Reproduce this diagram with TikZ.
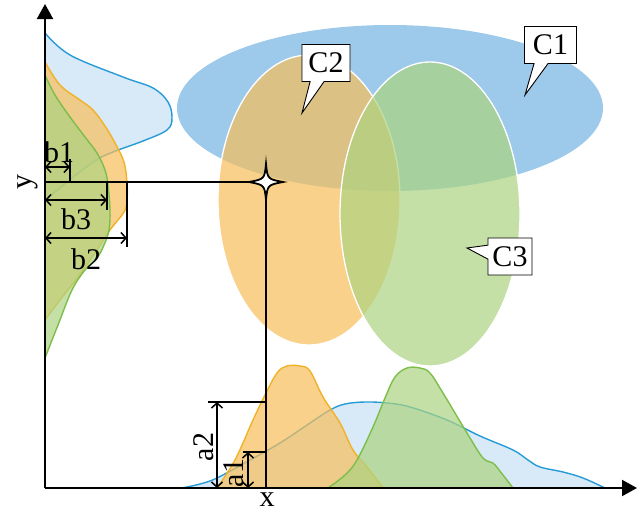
\documentclass[tikz,border=0pt]{standalone}
\usepackage{fontspec}
\setmainfont{Liberation Serif}
\usetikzlibrary{arrows.meta,shapes.callouts}
\definecolor{ellblue}{RGB}{157,201,234}
\definecolor{bluefill}{RGB}{157,201,234}
\definecolor{blueline}{RGB}{40,155,215}
\definecolor{orangefill}{RGB}{247,190,90}
\definecolor{orangeline}{RGB}{240,178,40}
\definecolor{greenfill}{RGB}{172,211,128}
\definecolor{greenline}{RGB}{125,190,75}
\begin{document}
\begin{tikzpicture}[x=1pt,y=-1pt,
  font={\fontsize{30}{32}\selectfont},
  axis/.style={line width=2pt,-{Triangle[length=15pt,width=16pt]}},
  guide/.style={line width=1.4pt},
  dim/.style={line width=1.5pt,{Straight Barb[length=5pt,width=11pt]}-{Straight Barb[length=5pt,width=11pt]}},
  bdist/.style={fill=bluefill,fill opacity=0.4,draw=blueline,line width=1.4pt,draw opacity=1},
  odist/.style={fill=orangefill,fill opacity=0.7,draw=orangeline,line width=1.4pt,draw opacity=1},
  gdist/.style={fill=greenfill,fill opacity=0.7,draw=greenline,line width=1.4pt,draw opacity=1},
  ell/.style={draw=white,line width=1.3pt,fill opacity=0.7},
  lab/.style={inner sep=0pt},
  callbox/.style={rectangle callout,draw=black,fill=white,line width=0.9pt,inner sep=0pt,
    minimum width=52pt,minimum height=37pt,callout pointer width=14pt}]
\useasboundingbox (0,0) rectangle (638,514);

% ellipses
\fill[ellblue] (390,108) ellipse [x radius=213pt, y radius=83pt];
\path[ell,fill=orangefill] (309,200) ellipse [x radius=91pt, y radius=145pt];
\path[ell,fill=greenfill] (430,214) ellipse [x radius=90pt, y radius=152pt];

% left distributions
\path[bdist] plot[smooth,tension=0.6] coordinates {(45,33) (70,55) (123,77) (153,88) (168,102) (172,118) (167,130) (143,141) (113,152) (95,161) (67,182) (46,200)};
\path[odist] plot[smooth,tension=0.6] coordinates {(45,62) (60,85) (80,100) (93,110) (105,126) (115,143) (124,162) (127,183) (127,200) (124,212) (110,230) (97,250) (78,277) (60,300) (45,320)};
\path[gdist] plot[smooth,tension=0.6] coordinates {(45,75) (55,95) (70,117) (85,137) (97,153) (105,170) (108,185) (110,210) (109,230) (104,245) (97,258) (85,270) (72,290) (58,325) (45,358)};

% bottom distributions
\path[bdist] plot[smooth,tension=0.6] coordinates {(182,488) (200,484) (217,478) (250,460) (280,443) (310,423) (330,410) (345,404) (365,402) (387,403) (410,407) (447,420) (480,436) (513,450) (528,460) (540,467) (563,472) (583,478) (605,488)};
\path[odist] plot[smooth,tension=0.6] coordinates {(217,488) (235,460) (253,420) (265,395) (277,373) (287,366) (300,366) (310,371) (323,397) (340,423) (353,450) (367,467) (383,488)};
\path[gdist] plot[smooth,tension=0.6] coordinates {(328,488) (345,475) (357,460) (373,427) (385,398) (395,377) (407,368) (420,368) (430,373) (443,393) (467,433) (483,458) (493,463) (503,475) (513,488)};

% coordinates
\coordinate (O) at (45,488);
\coordinate (Ytop) at (45,4);
\coordinate (Xend) at (637,488);
\coordinate (Yp) at (45,182);
\coordinate (S) at (266,182);
\coordinate (Xp) at (266,488);

% axes
\draw[axis] (O) -- (Ytop);
\draw[axis] (O) -- (Xend);

% guide lines
\draw[guide] (Yp) -- (S);
\draw[guide] (S) -- (Xp);

% left dimensions
\coordinate (b1s) at (45,167); \coordinate (b1e) at (70,167);
\coordinate (b1t) at (70,159); \coordinate (b1b) at (70,182);
\draw[dim] (b1s) -- (b1e);
\draw[guide] (b1t) -- (b1b);
\coordinate (b3s) at (45,200); \coordinate (b3e) at (107,200);
\coordinate (b3t) at (107,182); \coordinate (b3b) at (107,210);
\draw[dim] (b3s) -- (b3e);
\draw[guide] (b3t) -- (b3b);
\coordinate (b2s) at (45,238); \coordinate (b2e) at (127,238);
\coordinate (b2t) at (127,182); \coordinate (b2b) at (127,247);
\draw[dim] (b2s) -- (b2e);
\draw[guide] (b2t) -- (b2b);

% bottom dimensions
\coordinate (a2s) at (217,488); \coordinate (a2e) at (217,402);
\coordinate (a2l) at (208,402); \coordinate (a2r) at (266,402);
\draw[dim] (a2s) -- (a2e);
\draw[guide] (a2l) -- (a2r);
\coordinate (a1s) at (248,488); \coordinate (a1e) at (248,452);
\coordinate (a1l) at (243,452); \coordinate (a1r) at (266,452);
\draw[dim] (a1s) -- (a1e);
\draw[guide] (a1l) -- (a1r);

% labels
\node[lab] (lb1) at (59,152) {b1};
\node[lab] (lb3) at (76,219) {b3};
\node[lab] (lb2) at (86,259) {b2};
\node[lab,rotate=90] (ly) at (28,182) {y};
\node[lab] (lx) at (267,500) {x};
\node[lab,rotate=90] (la2) at (204,447) {a2};
\node[lab,rotate=90] (la1) at (234,473) {a1};

% star
\filldraw[fill=white,draw=black,line width=1.8pt]
  (266,164) .. controls (267.5,179) .. (283,182)
  .. controls (267.5,185) .. (266,200)
  .. controls (264.5,185) .. (249,182)
  .. controls (264.5,179) .. (266,164) -- cycle;

% callouts
\node[callbox,callout absolute pointer={(525,95)}] (c1) at (550.5,45) {C1};
\node[callbox,minimum width=48pt,callout absolute pointer={(302,113)}] (c2) at (326,63) {C2};
\node[callbox,minimum width=44pt,callout absolute pointer={(467,248)}] (c3) at (510,256.5) {C3};
\end{tikzpicture}
\end{document}
